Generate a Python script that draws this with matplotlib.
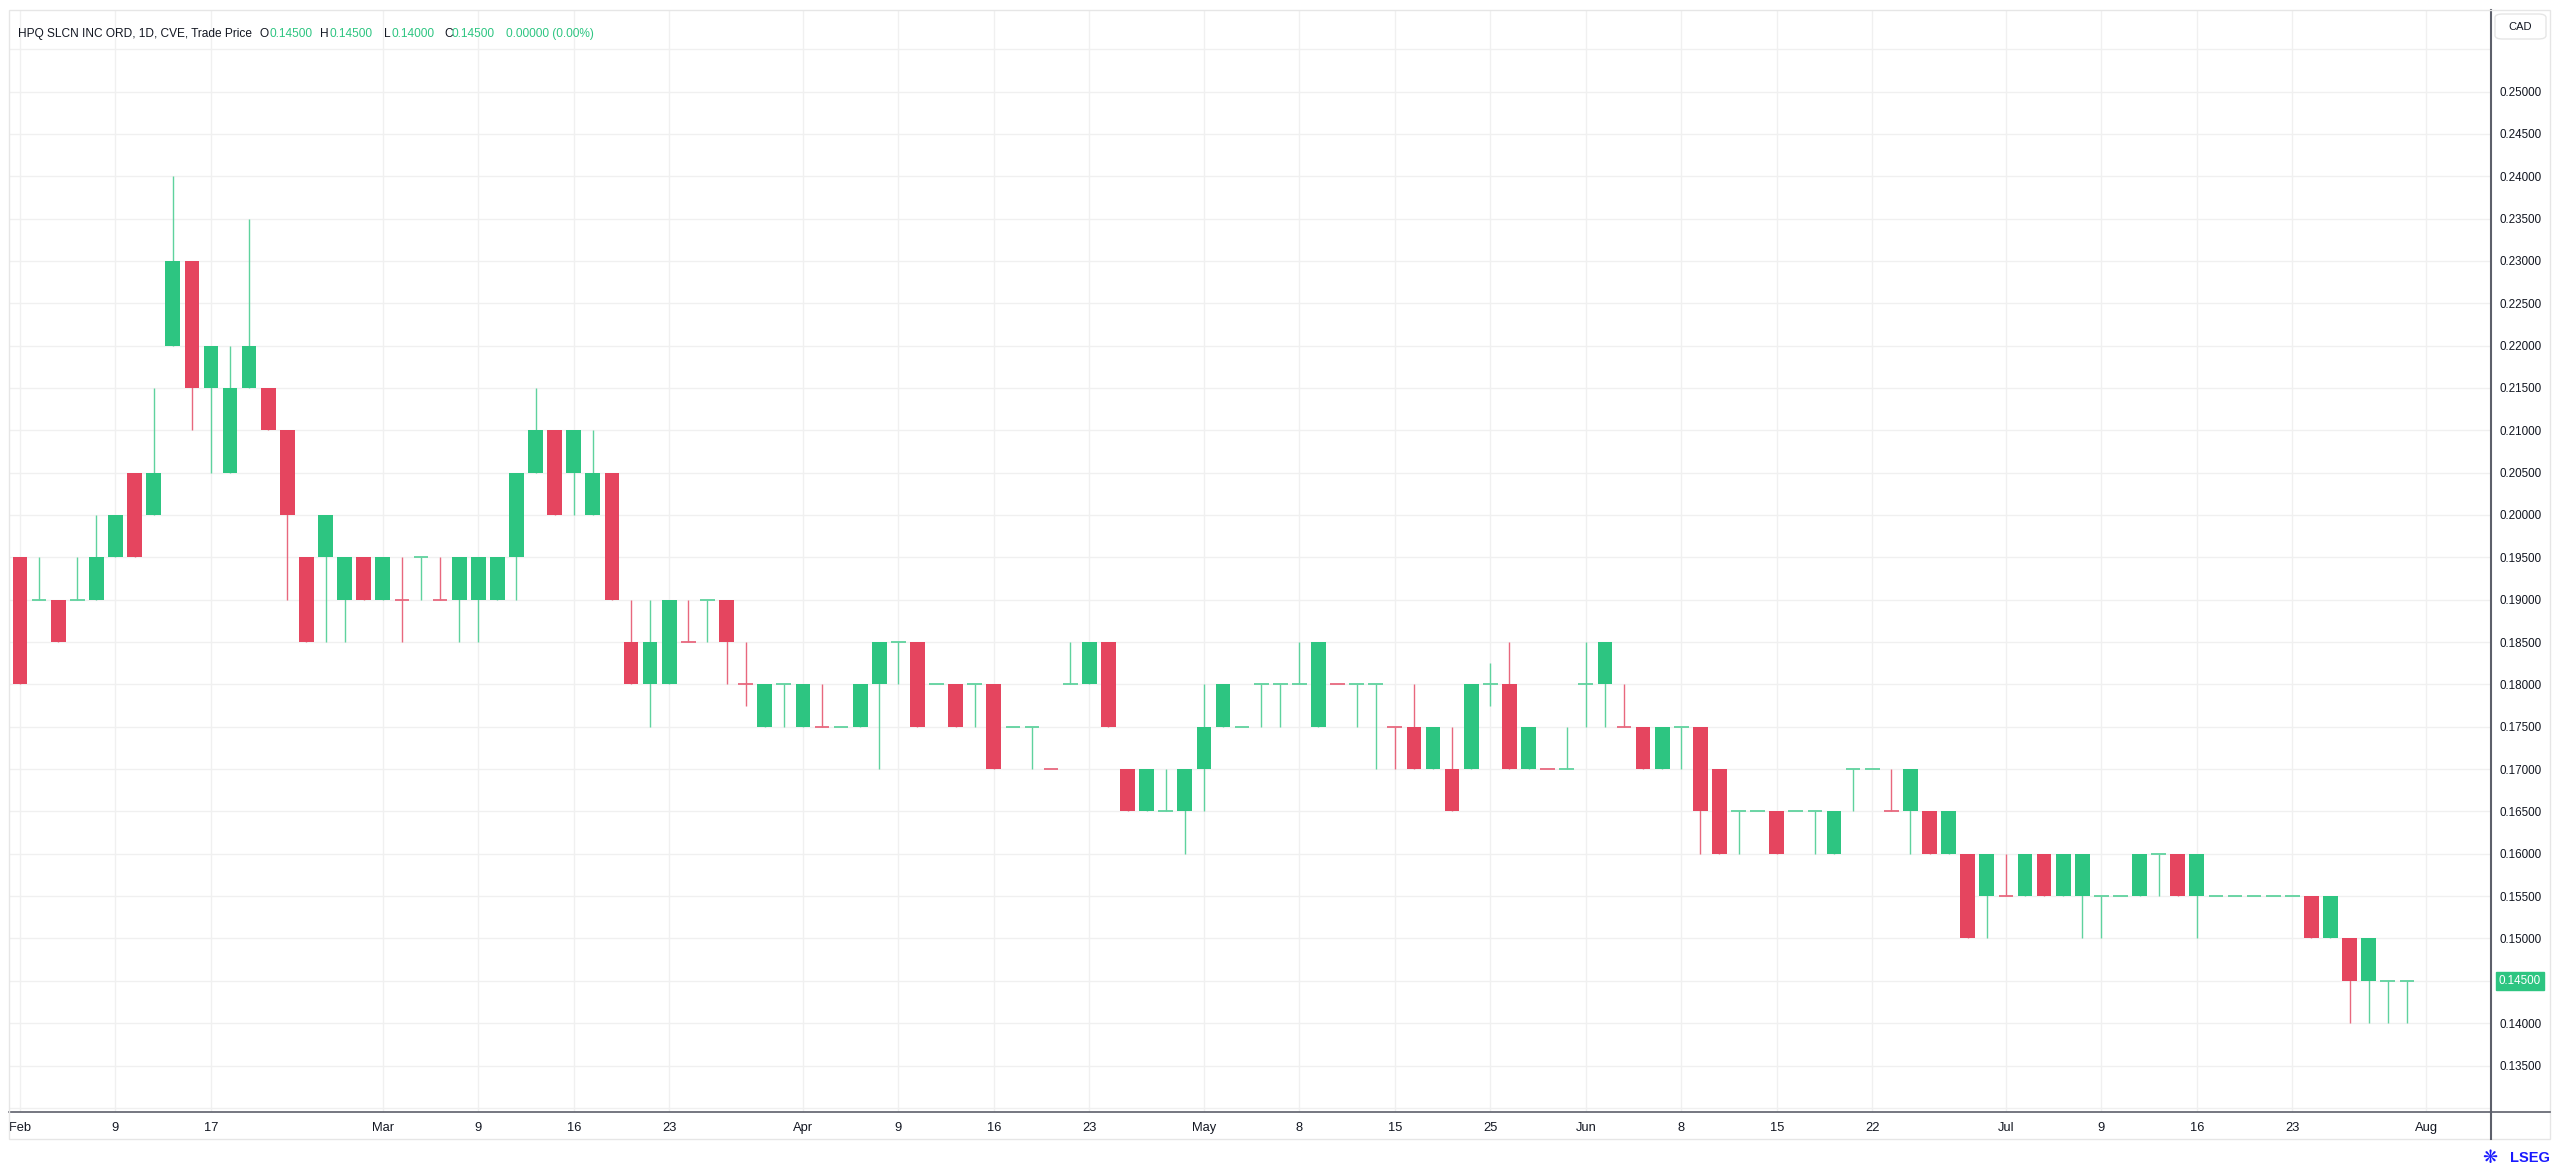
import matplotlib
matplotlib.use("Agg")
import matplotlib.pyplot as plt
from matplotlib import font_manager
from matplotlib.patches import Rectangle, FancyBboxPatch
import numpy as np

# ---------------- data ----------------
opens = [0.195, 0.19, 0.19, 0.19, 0.19, 0.195, 0.205, 0.2, 0.22, 0.23,
         0.215, 0.205, 0.215, 0.215, 0.21, 0.195, 0.195, 0.19, 0.195, 0.19,
         0.19, 0.195, 0.19, 0.19, 0.19, 0.19, 0.195, 0.205, 0.21, 0.205,
         0.2, 0.205, 0.185, 0.18, 0.18, 0.185, 0.19, 0.19, 0.18, 0.175,
         0.18, 0.175, 0.175, 0.175, 0.175, 0.18, 0.185, 0.185, 0.18, 0.18,
         0.18, 0.18, 0.175, 0.175, 0.17, 0.18, 0.18, 0.185, 0.17, 0.165,
         0.165, 0.165, 0.17, 0.175, 0.175, 0.18, 0.18, 0.18, 0.175, 0.18,
         0.18, 0.18, 0.175, 0.175, 0.17, 0.17, 0.17, 0.18, 0.18, 0.17,
         0.17, 0.17, 0.18, 0.18, 0.175, 0.175, 0.17, 0.175, 0.175, 0.17,
         0.165, 0.165, 0.165, 0.165, 0.165, 0.16, 0.17, 0.17, 0.165, 0.165,
         0.165, 0.16, 0.16, 0.155, 0.155, 0.155, 0.16, 0.155, 0.155, 0.155,
         0.155, 0.155, 0.16, 0.16, 0.155, 0.155, 0.155, 0.155, 0.155, 0.155,
         0.155, 0.15, 0.15, 0.145, 0.145, 0.145]
highs = [0.195, 0.195, 0.19, 0.195, 0.2, 0.2, 0.205, 0.215, 0.24, 0.23,
         0.22, 0.22, 0.235, 0.215, 0.21, 0.195, 0.2, 0.195, 0.195, 0.195,
         0.195, 0.195, 0.195, 0.195, 0.195, 0.195, 0.205, 0.215, 0.21, 0.21,
         0.21, 0.205, 0.19, 0.19, 0.19, 0.19, 0.19, 0.19, 0.185, 0.18,
         0.18, 0.18, 0.18, 0.175, 0.18, 0.185, 0.185, 0.185, 0.18, 0.18,
         0.18, 0.18, 0.175, 0.175, 0.17, 0.185, 0.185, 0.185, 0.17, 0.17,
         0.17, 0.17, 0.18, 0.18, 0.175, 0.18, 0.18, 0.185, 0.185, 0.18,
         0.18, 0.18, 0.175, 0.18, 0.175, 0.175, 0.18, 0.1825, 0.185, 0.175,
         0.17, 0.175, 0.185, 0.185, 0.18, 0.175, 0.175, 0.175, 0.175, 0.17,
         0.165, 0.165, 0.165, 0.165, 0.165, 0.165, 0.17, 0.17, 0.17, 0.17,
         0.165, 0.165, 0.16, 0.16, 0.16, 0.16, 0.16, 0.16, 0.16, 0.155,
         0.155, 0.16, 0.16, 0.16, 0.16, 0.155, 0.155, 0.155, 0.155, 0.155,
         0.155, 0.155, 0.15, 0.15, 0.145, 0.145]
lows = [0.18, 0.19, 0.185, 0.19, 0.19, 0.195, 0.195, 0.2, 0.22, 0.21,
        0.205, 0.205, 0.215, 0.21, 0.19, 0.185, 0.185, 0.185, 0.19, 0.19,
        0.185, 0.19, 0.19, 0.185, 0.185, 0.19, 0.19, 0.205, 0.2, 0.2,
        0.2, 0.19, 0.18, 0.175, 0.18, 0.185, 0.185, 0.18, 0.1775, 0.175,
        0.175, 0.175, 0.175, 0.175, 0.175, 0.17, 0.18, 0.175, 0.18, 0.175,
        0.175, 0.17, 0.175, 0.17, 0.17, 0.18, 0.18, 0.175, 0.165, 0.165,
        0.165, 0.16, 0.165, 0.175, 0.175, 0.175, 0.175, 0.18, 0.175, 0.18,
        0.175, 0.17, 0.17, 0.17, 0.17, 0.165, 0.17, 0.1775, 0.17, 0.17,
        0.17, 0.17, 0.175, 0.175, 0.175, 0.17, 0.17, 0.17, 0.16, 0.16,
        0.16, 0.165, 0.16, 0.165, 0.16, 0.16, 0.165, 0.17, 0.165, 0.16,
        0.16, 0.16, 0.15, 0.15, 0.155, 0.155, 0.155, 0.155, 0.15, 0.15,
        0.155, 0.155, 0.155, 0.155, 0.15, 0.155, 0.155, 0.155, 0.155, 0.155,
        0.15, 0.15, 0.14, 0.14, 0.14, 0.14]
closes = [0.18, 0.19, 0.185, 0.19, 0.195, 0.2, 0.195, 0.205, 0.23, 0.215,
          0.22, 0.215, 0.22, 0.21, 0.2, 0.185, 0.2, 0.195, 0.19, 0.195,
          0.19, 0.195, 0.19, 0.195, 0.195, 0.195, 0.205, 0.21, 0.2, 0.21,
          0.205, 0.19, 0.18, 0.185, 0.19, 0.185, 0.19, 0.185, 0.18, 0.18,
          0.18, 0.18, 0.175, 0.175, 0.18, 0.185, 0.185, 0.175, 0.18, 0.175,
          0.18, 0.17, 0.175, 0.175, 0.17, 0.18, 0.185, 0.175, 0.165, 0.17,
          0.165, 0.17, 0.175, 0.18, 0.175, 0.18, 0.18, 0.18, 0.185, 0.18,
          0.18, 0.18, 0.175, 0.17, 0.175, 0.165, 0.18, 0.18, 0.17, 0.175,
          0.17, 0.17, 0.18, 0.185, 0.175, 0.17, 0.175, 0.175, 0.165, 0.16,
          0.165, 0.165, 0.16, 0.165, 0.165, 0.165, 0.17, 0.17, 0.165, 0.17,
          0.16, 0.165, 0.15, 0.16, 0.155, 0.16, 0.155, 0.16, 0.16, 0.155,
          0.155, 0.16, 0.16, 0.155, 0.16, 0.155, 0.155, 0.155, 0.155, 0.155,
          0.15, 0.155, 0.145, 0.15, 0.145, 0.145]
# candle colour as drawn: u = up (green), d = down (red)
direction = ["d", "u", "d", "u", "u", "u", "d", "u", "u", "d",
             "u", "u", "u", "d", "d", "d", "u", "u", "d", "u",
             "d", "u", "d", "u", "u", "u", "u", "u", "d", "u",
             "u", "d", "d", "u", "u", "d", "u", "d", "d", "u",
             "u", "u", "d", "u", "u", "u", "u", "d", "u", "d",
             "u", "d", "u", "u", "d", "u", "u", "d", "d", "u",
             "u", "u", "u", "u", "u", "u", "u", "u", "u", "d",
             "u", "u", "d", "d", "u", "d", "u", "u", "d", "u",
             "d", "u", "u", "u", "d", "d", "u", "u", "d", "d",
             "u", "u", "d", "u", "u", "u", "u", "u", "d", "u",
             "d", "u", "d", "u", "d", "u", "d", "u", "u", "u",
             "u", "u", "u", "d", "u", "u", "u", "u", "u", "u",
             "d", "u", "d", "u", "u", "u"]

date_labels = ["Feb", "9", "17", "Mar", "9", "16", "23", "Apr", "9", "16",
               "23", "May", "8", "15", "25", "Jun", "8", "15", "22", "Jul",
               "9", "16", "23", "Aug"]
date_label_bars = [0, 5, 10, 19, 24, 29, 34, 41, 46, 51, 56, 62, 67, 72, 77,
                   82, 87, 92, 97, 104, 109, 114, 119, 126]
price_ticks = [0.135, 0.14, 0.145, 0.15, 0.155, 0.16, 0.165, 0.17, 0.175,
               0.18, 0.185, 0.19, 0.195, 0.2, 0.205, 0.21, 0.215, 0.22,
               0.225, 0.23, 0.235, 0.24, 0.245, 0.25]
grid_prices = [0.13] + price_ticks + [0.255]

title_text = "HPQ SLCN INC ORD, 1D, CVE, Trade Price"
ohlc_names = ["O", "H", "L", "C"]
ohlc_values = ["0.14500", "0.14500", "0.14000", "0.14500"]
change_text = "0.00000 (0.00%)"
last_price = 0.145
currency = "CAD"

# ---------------- style ----------------
UP = "#2dc581"
DOWN = "#e5455f"
UP_WICK = "#5fd29e"
DOWN_WICK = "#e8687e"
GRID = "#f0f0f0"
TEXT = "#131722"
AXIS = "#5d606b"

def pick(*names):
    avail = {f.name for f in font_manager.fontManager.ttflist}
    for nm in names:
        if nm in avail:
            return nm
    return "DejaVu Sans"

SANS = pick("Liberation Sans", "DejaVu Sans")

W, H = 2560, 1170
fig = plt.figure(figsize=(W / 100, H / 100), dpi=100)
fig.patch.set_facecolor("white")

L, R, T, B = 9, 2491, 10, 1112
ax = fig.add_axes([L / W, 1 - B / H, (R - L) / W, (B - T) / H])
ax.set_facecolor("white")

n = len(opens)
x = np.arange(n)
o = np.array(opens); c = np.array(closes)
hi = np.array(highs); lo = np.array(lows)
up = np.array([d == "u" for d in direction])

# grid
for gp in grid_prices:
    ax.axhline(gp, color=GRID, lw=1.0, zorder=0)
for b in date_label_bars:
    ax.axvline(b, color=GRID, lw=1.0, zorder=0)

bw = 0.77
# wicks
ax.vlines(x[up], lo[up], hi[up], color=UP_WICK, lw=1.0, zorder=2)
ax.vlines(x[~up], lo[~up], hi[~up], color=DOWN_WICK, lw=1.0, zorder=2)
# bodies
body_bottom = np.minimum(o, c)
body_h = np.abs(c - o)
flat = body_h == 0
ax.bar(x[up & ~flat], body_h[up & ~flat], bottom=body_bottom[up & ~flat],
       width=bw, color=UP, lw=0, zorder=3)
ax.bar(x[~up & ~flat], body_h[~up & ~flat], bottom=body_bottom[~up & ~flat],
       width=bw, color=DOWN, lw=0, zorder=3)
ax.hlines(c[up & flat], x[up & flat] - bw / 2, x[up & flat] + bw / 2,
          color=UP_WICK, lw=1.3, zorder=3)
ax.hlines(c[~up & flat], x[~up & flat] - bw / 2, x[~up & flat] + bw / 2,
          color=DOWN_WICK, lw=1.3, zorder=3)

# scales: 19.095 px per bar, 0.005 per 42.35 px
ax.set_xlim((L - 20) / 19.095, (R - 20) / 19.095)
ax.set_ylim(0.25 - (B - 91.5) * 0.005 / 42.35, 0.25 + (91.5 - T) * 0.005 / 42.35)

# axes styling
for s in ["top", "left"]:
    ax.spines[s].set_visible(False)
ax.spines["right"].set_color(AXIS)
ax.spines["bottom"].set_color(AXIS)
ax.spines["right"].set_linewidth(1.5)
ax.spines["bottom"].set_linewidth(1.2)

ax.yaxis.tick_right()
ax.set_yticks(price_ticks)
ax.set_yticklabels([f"{p:.5f}" for p in price_ticks], fontsize=8.4,
                   family=SANS, color=TEXT)
ax.tick_params(axis="y", length=0, pad=6)
ax.set_xticks(date_label_bars)
ax.set_xticklabels(date_labels, fontsize=9.3, family=SANS, color=TEXT)
ax.tick_params(axis="x", length=0, pad=7)

# last price label on right axis
ax.annotate(f"{last_price:.5f}", xy=(1.0, last_price),
            xycoords=("axes fraction", "data"), xytext=(5.5, 0),
            textcoords="offset points", ha="left", va="center",
            fontsize=8.4, family=SANS, color="white",
            bbox=dict(boxstyle="square,pad=0.25", fc=UP, ec=UP),
            annotation_clip=False, zorder=10)

# outer frame lines in figure pixels
def fx(px): return px / W
def fy(py): return 1 - py / H
frame = Rectangle((fx(L), fy(1139)), fx(2550) - fx(L), fy(T) - fy(1139),
                  transform=fig.transFigure, fill=False, ec="#e6e6e6", lw=1.0)
fig.patches.append(frame)
fig.add_artist(plt.Line2D([fx(R), fx(2550)], [fy(B), fy(B)],
                          transform=fig.transFigure, color=AXIS, lw=1.2))
fig.add_artist(plt.Line2D([fx(R), fx(R)], [fy(B), fy(1139)],
                          transform=fig.transFigure, color=AXIS, lw=1.5))

# currency box
box = FancyBboxPatch((fx(2495), fy(39)), fx(2546) - fx(2495), fy(14) - fy(39),
                     boxstyle="round,pad=0,rounding_size=0.003",
                     transform=fig.transFigure, fc="white", ec="#e6e6e6", lw=1.0)
fig.patches.append(box)
fig.text(fx(2520.5), fy(27), currency, ha="center", va="center",
         fontsize=8, family=SANS, color=TEXT)

# header legend
HFS = 8.6
fig.text(fx(18), fy(34), title_text, ha="left", va="center",
         fontsize=HFS, family=SANS, color=TEXT)
name_x = [260, 320, 384, 444]
val_x = [269, 329, 391, 452]
for nm, v, nx, vx in zip(ohlc_names, ohlc_values, name_x, val_x):
    fig.text(fx(nx), fy(34), nm, ha="left", va="center", fontsize=HFS,
             family=SANS, color=TEXT)
    fig.text(fx(vx), fy(34), v, ha="left", va="center", fontsize=HFS,
             family=SANS, color=UP)
fig.text(fx(506), fy(34), change_text, ha="left", va="center", fontsize=HFS,
         family=SANS, color=UP)

# LSEG mark
fig.text(fx(2490), fy(1158), "\u274b", ha="center", va="center",
         fontsize=13, family="DejaVu Sans", color="#1a1aff")
fig.text(fx(2550), fy(1158), "LSEG", ha="right", va="center",
         fontsize=10.5, family=SANS, weight="bold", color="#1a1aff")

fig.savefig("out.png", dpi=100, facecolor="white")
